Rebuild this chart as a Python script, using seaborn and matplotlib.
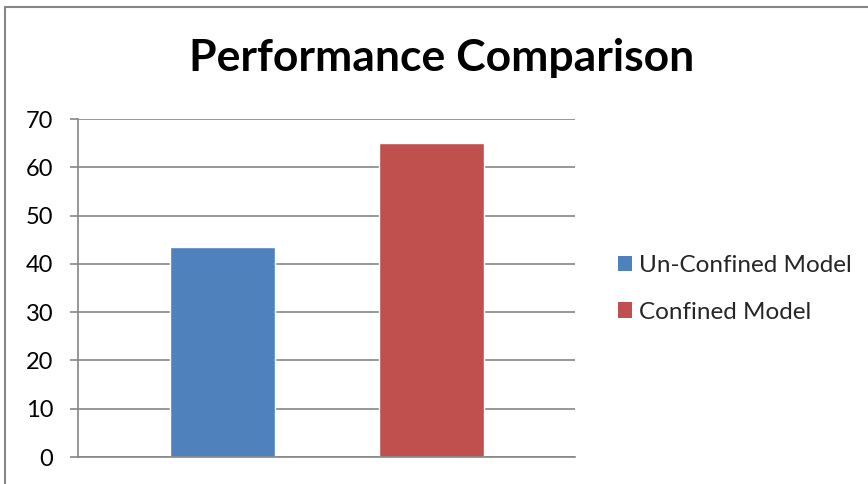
import matplotlib
matplotlib.use("Agg")
import matplotlib.pyplot as plt
import seaborn as sns
import pandas as pd
from matplotlib.lines import Line2D
from matplotlib.patches import Patch

categories = ["Un-Confined Model", "Confined Model"]
values = [43.5, 65.0]
colors = ["#4F81BD", "#C0504D"]
yticks = [0, 10, 20, 30, 40, 50, 60, 70]
title = "Performance Comparison"

sns.set_theme(style="white")
plt.rcParams["font.family"] = ["Lato", "DejaVu Sans"]

fig = plt.figure(figsize=(8.68, 4.84), dpi=100)
ax = fig.add_axes([78/868, 1-457/484, (575-78)/868, (457-119)/484])

df = pd.DataFrame({"model": categories, "value": values})
sns.barplot(data=df, x="model", y="value", hue="model", palette=colors,
            width=0.5, dodge=False, legend=False, ax=ax, saturation=1)

ax.set_ylim(0, 70)
ax.set_xlim(-0.691, 1.687)
ax.set_yticks(yticks)
ax.set_yticklabels([str(t) for t in yticks], fontsize=17, color="#000000")
ax.set_xticks([])
ax.set_xlabel("")
ax.set_ylabel("")
ax.yaxis.grid(True, color="#868686", linewidth=1.2)
ax.set_axisbelow(True)
for s in ["top", "right"]:
    ax.spines[s].set_visible(False)
ax.spines["left"].set_color("#868686")
ax.spines["bottom"].set_color("#868686")
ax.spines["left"].set_linewidth(1.2)
ax.spines["bottom"].set_linewidth(1.2)
ax.tick_params(axis="y", direction="out", length=5.8, width=1.2, color="#868686",
               left=True, pad=12)

fig.text(442/868, 1-58/484, title, ha="center", va="center",
         fontsize=32, fontweight="bold", color="#000000")

handles = [Patch(facecolor=c, edgecolor="none") for c in colors]
fig.legend(handles, categories, loc="center left",
           bbox_to_anchor=(596/868, 1-289/484), frameon=False,
           fontsize=17.5, handlelength=0.6, handleheight=0.6,
           handletextpad=0.25, labelspacing=1.05)

# outer border (top and left visible)
fig.add_artist(Line2D([5/868, 5/868], [0, 1-7/484], color="#868686",
                      linewidth=1.5, transform=fig.transFigure))
fig.add_artist(Line2D([5/868, 1], [1-7/484, 1-7/484], color="#868686",
                      linewidth=1.5, transform=fig.transFigure))

fig.savefig("out.png", dpi=100)
